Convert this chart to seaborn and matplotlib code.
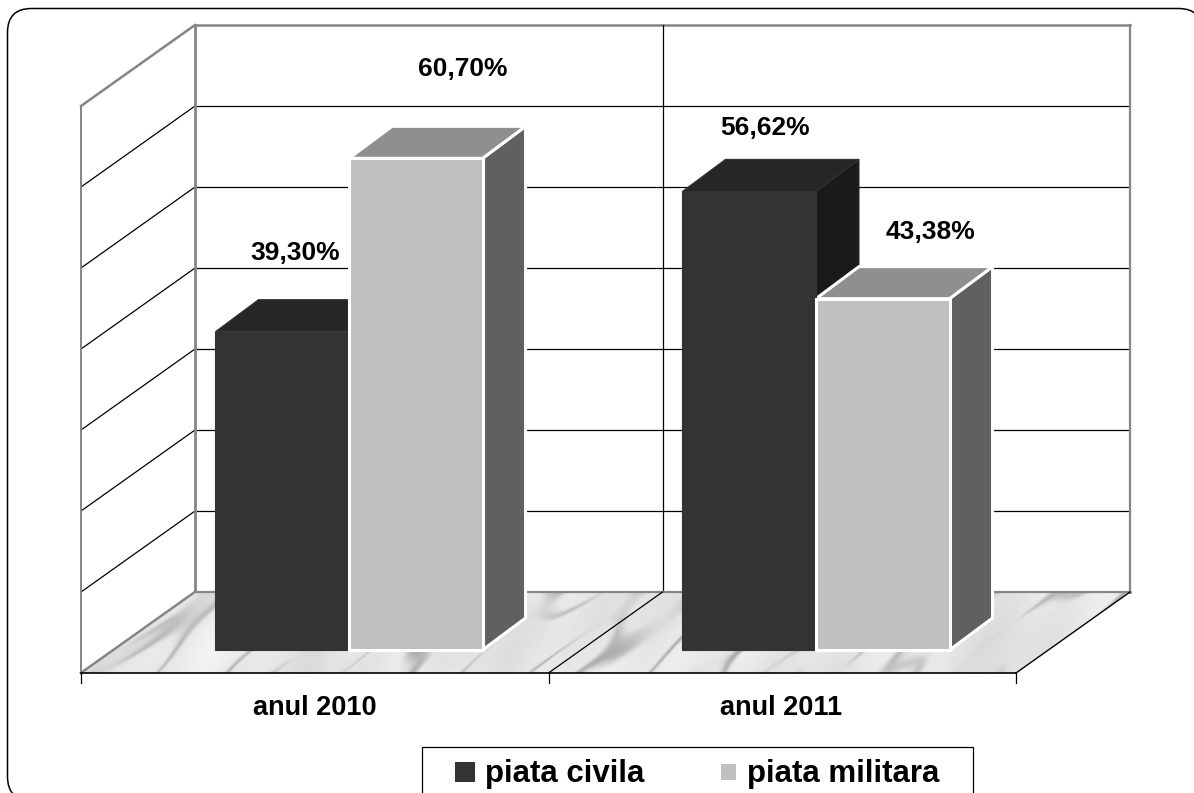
import numpy as np
import pandas as pd
import seaborn as sns
import matplotlib.pyplot as plt
from matplotlib.patches import FancyBboxPatch, Polygon, Rectangle

years = ['anul 2010', 'anul 2011']
series = ['piata civila', 'piata militara']
civila = [39.30, 56.62]
militara = [60.70, 43.38]
value_ticks = [0, 10, 20, 30, 40, 50, 60, 70]

# manual label offsets from the top centre of each bar, in pixels (left to right)
label_offsets = [(13, -79), (47, -89), (16, -63), (48, -67)]

DARK = ['#333333', '#262626', '#1a1a1a']   # front, top, side
LIGHT = ['#c0c0c0', '#8f8f8f', '#606060']
GREY = '#858585'

plt.rcParams['font.family'] = ['Liberation Sans', 'DejaVu Sans']
plt.rcParams['font.weight'] = 'bold'

df = pd.DataFrame({
    'year': years * 2,
    'serie': [series[0]] * 2 + [series[1]] * 2,
    'value': civila + militara,
})

fig = plt.figure(figsize=(11.94, 7.93), dpi=100, facecolor='white')

# pixel canvas for the fake 3D box
bg = fig.add_axes([0, 0, 1, 1])
bg.set_xlim(0, 1194)
bg.set_ylim(793, 0)
bg.axis('off')

# bars axes: value 0 sits at y=650, 70 at y=83
ax = fig.add_axes([115.5 / 1194, (793 - 650) / 793, 934 / 1194, 567 / 793])
ax.patch.set_alpha(0)
sns.barplot(data=df, x='year', y='value', hue='serie', order=years, hue_order=series,
            palette=[DARK[0], LIGHT[0]], width=0.572, gap=0, saturation=1, legend=False, ax=ax)
ax.set_xlim(-0.5, 1.5)
ax.set_ylim(0, 70)
ax.set_yticks(value_ticks)
ax.axis('off')

to_px = ax.transData + bg.transData.inverted()

FLOOR_DX, FLOOR_DY = 114, -81
BAR_DX, BAR_DY = 43, -32
FRONT_DROP = 23   # bars stand this far behind the front floor edge

# frame, runs off the right and bottom of the picture
bg.add_patch(FancyBboxPatch((7.5, 8.5), 1195, 792, boxstyle='round,pad=0,rounding_size=24',
                            fc='white', ec='black', lw=1.1, zorder=0))

# grid lines on the back and left walls
y0 = to_px.transform((0, 0))[1] + FRONT_DROP
y_step = to_px.transform((0, 10))[1] - to_px.transform((0, 0))[1]
x_front, x_mid, x_end = 81, 548.5, 1016
for v in value_ticks:
    yf = y0 + y_step * v / 10
    yb = yf + FLOOR_DY
    col, lw = ('black', 0.9) if 0 < v < 70 else (GREY, 1.8)
    bg.plot([x_front + FLOOR_DX, x_end + FLOOR_DX], [yb, yb], color=col, lw=lw, zorder=1)
    bg.plot([x_front, x_front + FLOOR_DX], [yf, yb], color=col, lw=lw, zorder=1)

y_top = y0 + y_step * 7
bg.plot([x_front, x_front], [y_top, y0], color=GREY, lw=1.4, zorder=1)
bg.plot([x_front + FLOOR_DX] * 2, [y_top + FLOOR_DY, y0 + FLOOR_DY], color=GREY, lw=2, zorder=1)
bg.plot([x_end + FLOOR_DX] * 2, [y_top + FLOOR_DY, y0 + FLOOR_DY], color=GREY, lw=1.6, zorder=1)
bg.plot([x_mid + FLOOR_DX] * 2, [y_top + FLOOR_DY, y0 + FLOOR_DY], color='black', lw=0.9, zorder=1)

# marble floor: soft diagonal veins from a sum of sines, nothing random
floor = Polygon([(x_front, y0), (x_front + FLOOR_DX, y0 + FLOOR_DY),
                 (x_end + FLOOR_DX, y0 + FLOOR_DY), (x_end, y0)], fc='none', ec='none', zorder=2)
bg.add_patch(floor)
gx, gy = np.meshgrid(np.arange(81, 1131), np.arange(592, 674))
s = gx + 1.4 * (gy - 592)
t = gx - 0.6 * (gy - 592)
vein_terms = [(0.041, 0.009, 0.4), (0.067, -0.013, 1.9), (0.029, 0.021, 2.7), (0.097, 0.017, 4.1),
              (0.053, -0.027, 5.3), (0.019, 0.007, 0.9)]
cloud_terms = [(0.017, 0.011, 1.1), (0.031, -0.019, 2.3), (0.053, 0.041, 3.9), (0.009, 0.027, 0.2)]
n1 = sum(np.sin(a * s + b * t + p) for a, b, p in vein_terms)
n2 = sum(np.sin(a * s + b * t + p) for a, b, p in cloud_terms) / 2.5
veins = np.exp(-(n1 / 0.55) ** 2) * np.clip(0.5 + 0.6 * n2, 0.05, 1)
marble = 230 + 8 * n2 - 70 * veins
img = bg.imshow(marble, cmap='gray', vmin=0, vmax=255, extent=(81, 1131, 674, 592),
                aspect='auto', interpolation='bilinear', zorder=2)
img.set_clip_path(floor)
bg.set_xlim(0, 1194)
bg.set_ylim(793, 0)

bg.plot([x_front, x_front + FLOOR_DX], [y0, y0 + FLOOR_DY], color=GREY, lw=1.6, zorder=3)
bg.plot([x_front + FLOOR_DX, x_end + FLOOR_DX], [y0 + FLOOR_DY] * 2, color=GREY, lw=1.6, zorder=3)
bg.plot([x_end, x_end + FLOOR_DX], [y0, y0 + FLOOR_DY], color='black', lw=1, zorder=3)
bg.plot([x_mid, x_mid + FLOOR_DX], [y0, y0 + FLOOR_DY], color='black', lw=0.9, zorder=3)
bg.plot([x_front, x_end], [y0, y0], color='black', lw=1.2, zorder=3)
for x in (x_front, x_mid, x_end):
    bg.plot([x, x], [y0, y0 + 10], color='black', lw=0.9, zorder=3)

# sides and tops come from the bars seaborn drew
bars = sorted(ax.patches, key=lambda p: p.get_x())
z = 4
for bar in bars:
    light = bar.get_facecolor()[0] > 0.5
    cols = LIGHT if light else DARK
    edge, lw = ('white', 2.2) if light else ('#333333', 0.8)
    x0, base = to_px.transform((bar.get_x(), 0))
    x1, top = to_px.transform((bar.get_x() + bar.get_width(), bar.get_height()))
    side = [(x1, top), (x1 + BAR_DX, top + BAR_DY), (x1 + BAR_DX, base + BAR_DY), (x1, base)]
    roof = [(x0, top), (x0 + BAR_DX, top + BAR_DY), (x1 + BAR_DX, top + BAR_DY), (x1, top)]
    bg.add_patch(Polygon(side, fc=cols[2], ec=edge, lw=lw, joinstyle='miter', zorder=z))
    bg.add_patch(Polygon(roof, fc=cols[1], ec=edge, lw=lw, joinstyle='miter', zorder=z + 1))
    z += 2
    bar.set_edgecolor(edge)
    bar.set_linewidth(lw)
    bar.set_joinstyle('miter')
    bar.set_clip_on(False)
    if light:
        bar.set_zorder(3)

# value labels
for bar, off in zip(bars, label_offsets):
    cx = bar.get_x() + bar.get_width() / 2
    px, py = to_px.transform((cx, bar.get_height()))
    text = f'{bar.get_height():.2f}%'.replace('.', ',')
    bg.text(px + off[0], py + off[1], text, ha='center', va='center', fontsize=19,
            color='black', zorder=20)

# category labels centred under the front floor edge
for i, year in enumerate(years):
    px = to_px.transform((i, 0))[0] - 34.5
    bg.text(px, 715, year, ha='center', va='baseline', fontsize=19.5, color='black', zorder=20)

# legend box runs off the bottom of the picture
bg.add_patch(Rectangle((421.5, 746.5), 551, 60, fc='white', ec='black', lw=0.9, zorder=20))
bg.add_patch(Rectangle((455, 762), 20, 20, fc=DARK[0], ec='none', zorder=21))
bg.add_patch(Rectangle((721, 764), 15, 16, fc=LIGHT[0], ec='none', zorder=21))
bg.text(485, 782, series[0], ha='left', va='baseline', fontsize=22.5, color='black', zorder=21)
bg.text(747, 782, series[1], ha='left', va='baseline', fontsize=22.5, color='black', zorder=21)

fig.savefig('out.png', dpi=100, facecolor='white')
